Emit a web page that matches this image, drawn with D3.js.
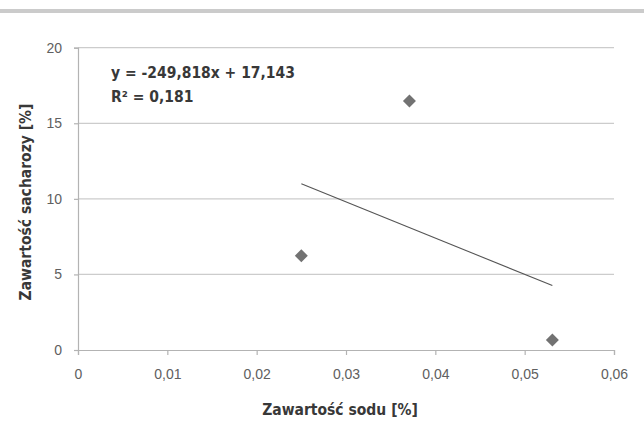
<!DOCTYPE html>
<html>
<head>
<meta charset="utf-8">
<script src="https://cdn.jsdelivr.net/npm/d3@7"></script>
<style>
  body { margin: 0; background: #fff; }
  svg { display: block; font-family: "DejaVu Sans Condensed", "Liberation Sans Narrow", sans-serif; }
</style>
</head>
<body>
<svg id="chart" width="644" height="442"></svg>
<script>
// sodium content [%] vs sucrose content [%]
var sodium = [0.025, 0.0371, 0.0531];
var sucrose = [6.23, 16.47, 0.66];
var xTicks = [0, 0.01, 0.02, 0.03, 0.04, 0.05, 0.06];
var yTicks = [0, 5, 10, 15, 20];
var equationLines = ["y = -249,818x + 17,143", "R² = 0,181"];

var svg = d3.select("#chart");
var margin = {left: 78, right: 30, top: 47.7, bottom: 92};
var width = 644 - margin.left - margin.right;
var height = 442 - margin.top - margin.bottom;

var comma = function(d) { return String(d).replace(".", ","); };

var x = d3.scaleLinear().domain([0, 0.06]).range([0, width]);
var y = d3.scaleLinear().domain([0, 20]).range([height, 0]);

// top grey band
svg.append("rect")
    .attr("x", 0).attr("y", 9)
    .attr("width", 644).attr("height", 4)
    .style("fill", "#cbcbcb");

var g = svg.append("g")
    .attr("transform", "translate(" + margin.left + "," + margin.top + ")");

// gridlines
g.selectAll("line.grid")
    .data(yTicks.slice(1))
    .enter()
    .append("line")
    .attr("class", "grid")
    .attr("x1", 0).attr("x2", width)
    .attr("y1", function(d) { return y(d); })
    .attr("y2", function(d) { return y(d); })
    .style("stroke", "#cccccc")
    .style("stroke-width", 1.2);

var yAxis = g.append("g")
    .call(d3.axisLeft(y).tickValues(yTicks).tickSize(4).tickPadding(12).tickFormat(comma));
var xAxis = g.append("g")
    .attr("transform", "translate(0," + height + ")")
    .call(d3.axisBottom(x).tickValues(xTicks).tickSize(5).tickPadding(14).tickFormat(comma));

[xAxis, yAxis].forEach(function(a) {
    a.select(".domain").style("stroke", "#b3b3b3").style("stroke-width", 1.2);
    a.selectAll(".tick line").style("stroke", "#b3b3b3").style("stroke-width", 1.2);
    a.selectAll(".tick text")
        .style("fill", "#606060")
        .style("font-size", "14px");
});

// least squares trendline over the data range
var mx = d3.mean(sodium), my = d3.mean(sucrose);
var sxy = d3.sum(sodium, function(d, i) { return (d - mx) * (sucrose[i] - my); });
var sxx = d3.sum(sodium, function(d) { return (d - mx) * (d - mx); });
var slope = sxy / sxx;
var intercept = my - slope * mx;
var xr = d3.extent(sodium);

g.append("path")
    .datum(xr)
    .attr("d", d3.line()
        .x(function(d) { return x(d); })
        .y(function(d) { return y(intercept + slope * d); }))
    .style("fill", "none")
    .style("stroke", "#555")
    .style("stroke-width", 1.1);

// diamond markers
g.selectAll("path.pt")
    .data(sodium)
    .enter()
    .append("path")
    .attr("class", "pt")
    .attr("d", "M0,-6.5L6.5,0L0,6.5L-6.5,0Z")
    .attr("transform", function(d, i) {
        return "translate(" + x(d) + "," + y(sucrose[i]) + ")";
    })
    .style("fill", "#727272");

// equation label
g.selectAll("text.eq")
    .data(equationLines)
    .enter()
    .append("text")
    .attr("class", "eq")
    .attr("x", 33)
    .attr("y", function(d, i) { return 30 + i * 24; })
    .text(function(d) { return d; })
    .style("font-size", "15.5px")
    .style("font-weight", "bold")
    .style("fill", "#383838");

// axis titles
svg.append("text")
    .attr("x", margin.left + width / 2 - 6)
    .attr("y", 415)
    .attr("text-anchor", "middle")
    .text("Zawartość sodu [%]")
    .style("font-size", "15.5px")
    .style("font-weight", "bold")
    .style("fill", "#383838");

svg.append("text")
    .attr("transform", "translate(31,202) rotate(-90)")
    .attr("text-anchor", "middle")
    .text("Zawartość sacharozy [%]")
    .style("font-size", "15.5px")
    .style("font-weight", "bold")
    .style("fill", "#383838");
</script>
</body>
</html>
